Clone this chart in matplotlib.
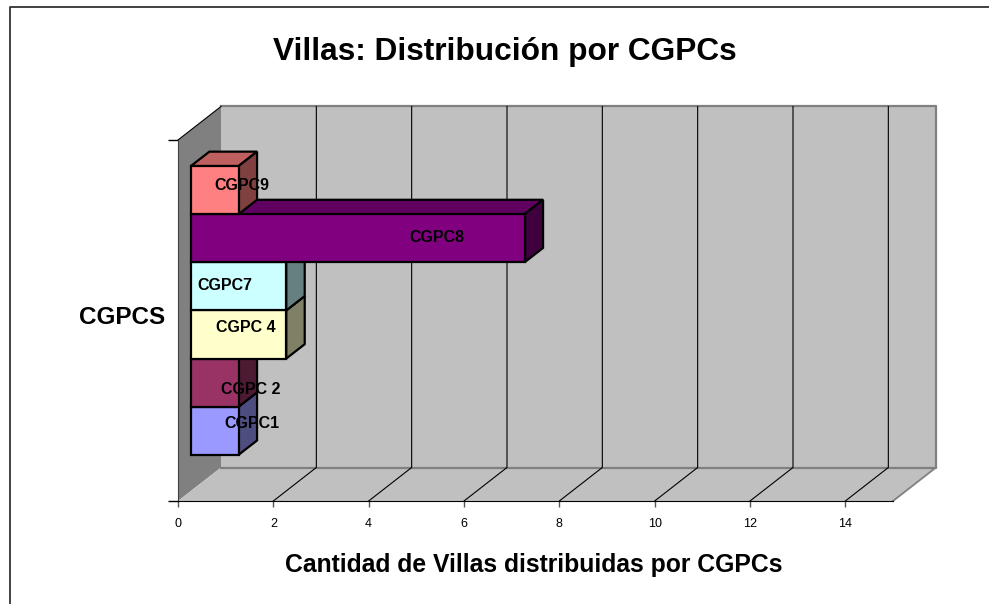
import matplotlib
matplotlib.use('Agg')
import matplotlib.pyplot as plt
from matplotlib.lines import Line2D

# Datos del grafico
cgpcs = ['CGPC1', 'CGPC 2', 'CGPC 4', 'CGPC7', 'CGPC8', 'CGPC9']
villas = [1, 1, 2, 2, 7, 1]
front_colors = ['#9999FF', '#993366', '#FFFFCC', '#CCFFFF', '#800080', '#FF8080']
x_ticks = [0, 2, 4, 6, 8, 10, 12, 14]

W, H = 989, 604
plt.rcParams['font.family'] = ['Liberation Sans', 'DejaVu Sans']

fig = plt.figure(figsize=(W / 100, H / 100), dpi=100)
ax = fig.add_axes([178 / W, (H - 501) / H, 715 / W, 361 / H])
ax.set_xlim(0, 15)
ax.set_ylim(0, 1)
ax.patch.set_visible(False)

# desplazamiento de profundidad (falso 3D) en unidades de datos
DX = 43 / (715 / 15)
DY = 33.5 / 361


def pr(x, y, d):
    return x + d * DX, y + d * DY


def poly(pts, fc, ec='none', lw=0.0, z=1):
    ax.fill([p[0] for p in pts], [p[1] for p in pts], facecolor=fc, edgecolor=ec,
            linewidth=lw, zorder=z, clip_on=False, joinstyle='miter')


def shade(color, k):
    r, g, b = matplotlib.colors.to_rgb(color)
    return (r * k, g * k, b * k)


def px_text(x, y, s, size, **kw):
    fig.text(x / W, 1 - y / H, s, fontsize=size, ha='center', va='center', **kw)


# paredes y piso
poly([pr(0, 0, 1), pr(15, 0, 1), pr(15, 1, 1), pr(0, 1, 1)], '#C0C0C0', z=1)
poly([pr(0, 0, 0), pr(0, 1, 0), pr(0, 1, 1), pr(0, 0, 1)], '#808080', z=1.5)
poly([pr(0, 0, 0), pr(15, 0, 0), pr(15, 0, 1), pr(0, 0, 1)], '#C0C0C0', z=1.5)
ax.plot(*zip(pr(0, 1, 1), pr(15, 1, 1), pr(15, 0, 1), pr(0, 0, 1)), color='#808080', lw=1.6,
        zorder=1.8, clip_on=False)
ax.plot(*zip(pr(15, 0, 0), pr(15, 0, 1)), color='#808080', lw=1.3, zorder=1.8, clip_on=False)
ax.plot(*zip(pr(0, 1, 0), pr(0, 1, 1)), color='black', lw=0.8, zorder=1.8, clip_on=False)

# lineas de division
for t in x_ticks[1:]:
    ax.plot(*zip(pr(t, 0, 0), pr(t, 0, 1), pr(t, 1, 1)), color='black', lw=0.8, zorder=2, clip_on=False)

# barras, de abajo hacia arriba
bar_h = 1 / 7.5
y0 = 0.75 * bar_h
d0, d1 = 0.30, 0.73
for i, (v, c) in enumerate(zip(villas, front_colors)):
    lo = y0 + i * bar_h
    hi = lo + bar_h
    z = 3 + i * 0.1
    poly([pr(0, hi, d0), pr(v, hi, d0), pr(v, hi, d1), pr(0, hi, d1)], shade(c, 0.75), 'black', 1.6, z)
    poly([pr(v, lo, d0), pr(v, hi, d0), pr(v, hi, d1), pr(v, lo, d1)], shade(c, 0.5), 'black', 1.6, z)
    poly([pr(0, lo, d0), pr(v, lo, d0), pr(v, hi, d0), pr(0, hi, d0)], c, 'black', 1.6, z)

# ejes
for s in ['top', 'right']:
    ax.spines[s].set_visible(False)
ax.spines['bottom'].set_zorder(2.5)
ax.spines['left'].set_color('#404040')
ax.set_xticks(x_ticks)
ax.set_yticks([0, 1])
ax.set_yticklabels([])
ax.tick_params(axis='x', length=4, width=1, color='#555555', labelsize=9, pad=8)
ax.tick_params(axis='y', length=7, width=1, color='black')

# textos
label_pos = [(252, 423), (251, 389), (246, 327), (225, 285), (437, 238), (242, 185)]
for name, (lx, ly) in zip(cgpcs, label_pos):
    px_text(lx, ly, name, 11.5, fontweight='bold', color='black', zorder=10)

px_text(505, 52, 'Villas: Distribución por CGPCs', 22.8, fontweight='bold')
px_text(534, 565, 'Cantidad de Villas distribuidas por CGPCs', 17.8, fontweight='bold')
px_text(122, 318, 'CGPCS', 17.5, fontweight='bold')

# borde exterior del grafico (solo arriba e izquierda quedan dentro de la imagen)
fig.add_artist(Line2D([9.5 / W, 9.5 / W, 1], [0, 1 - 6.5 / H, 1 - 6.5 / H], transform=fig.transFigure,
                      color='#333333', linewidth=1.3))

fig.savefig('out.png', dpi=100)
